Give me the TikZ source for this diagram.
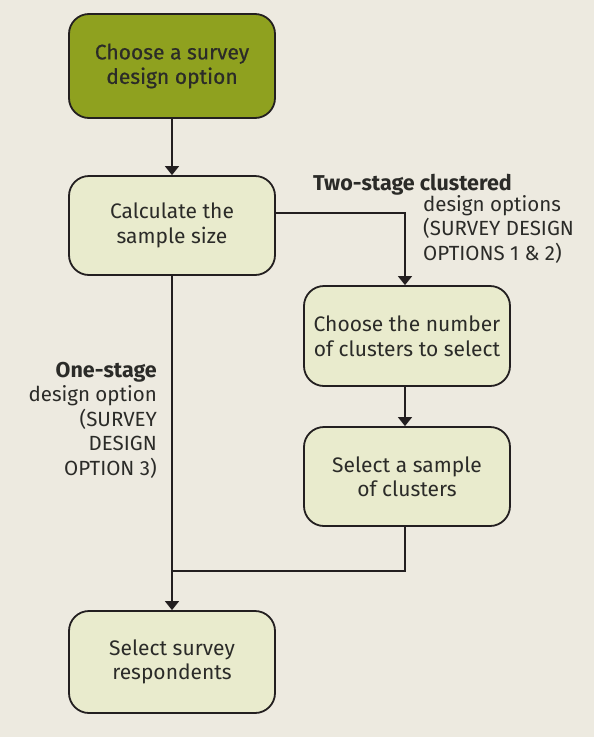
\documentclass[tikz,border=0pt]{standalone}
\usepackage{fontspec}
\setmainfont{Fira Sans}
\newfontfamily\medfont[FakeBold=0.6]{Fira Sans}
\usetikzlibrary{arrows.meta}
\definecolor{bg}{HTML}{EDEAE0}
\definecolor{olive}{HTML}{8FA11F}
\definecolor{pale}{HTML}{E9EBCD}
\definecolor{ink}{HTML}{231F20}
\definecolor{txt}{HTML}{2B2B28}
\tikzset{
  box/.style={draw=ink, line width=1.8pt, rounded corners=20pt, minimum width=206pt, minimum height=101pt, align=center, font=\fontsize{21}{24.5}\selectfont, text=txt, inner sep=0pt},
  pbox/.style={box, fill=pale},
  conn/.style={draw=ink, line width=1.6pt},
  arr/.style={conn, -{Triangle[width=14pt,length=9pt]}},
  lbl/.style={font=\fontsize{20.5}{24.5}\selectfont, text=txt, inner sep=0pt}
}
\begin{document}
\begin{tikzpicture}[x=1pt,y=-1pt]
\fill[bg] (0,0) rectangle (594,737);
\useasboundingbox (0,0) rectangle (594,737);
\node[box, fill=olive, font=\fontsize{21}{24.5}\medfont, minimum height=104pt] (b1) at (172,66) {Choose a survey\\design option};
\node[pbox, minimum height=99pt] (b2) at (172,225.5) {Calculate the\\sample size};
\node[pbox, minimum height=100pt] (b3) at (407,336) {Choose the number\\of clusters to select};
\node[pbox, minimum height=99pt] (b4) at (407,476.5) {Select a sample\\of clusters};
\node[pbox, minimum height=102pt] (b5) at (172,662) {Select survey\\respondents};
\coordinate (c1) at (405,213);
\coordinate (c2) at (405,571);
\coordinate (c3) at (172,571);
\draw[arr] (b1.south) -- (b2.north);
\draw[arr] (b2.east |- c1) -- (c1) -- (c1 |- b3.north);
\draw[arr] (c1 |- b3.south) -- (c1 |- b4.north);
\draw[conn] (c2 |- b4.south) -- (c2) -- (c3);
\draw[arr] (b2.south) -- (b5.north);
\node[lbl, anchor=base west, font=\fontsize{21.5}{24.5}\selectfont\bfseries] (t1) at (313,190) {Two-stage clustered};
\node[lbl, anchor=north west, align=left] (t2) at (423,195) {design options\\(SURVEY DESIGN\\OPTIONS 1 \& 2)};
\node[lbl, anchor=north east, align=right] (t3) at (157,362) {{\fontsize{21.5}{24.5}\selectfont\bfseries One-stage}\\design option\\(SURVEY\\DESIGN\\OPTION 3)};
\end{tikzpicture}
\end{document}
